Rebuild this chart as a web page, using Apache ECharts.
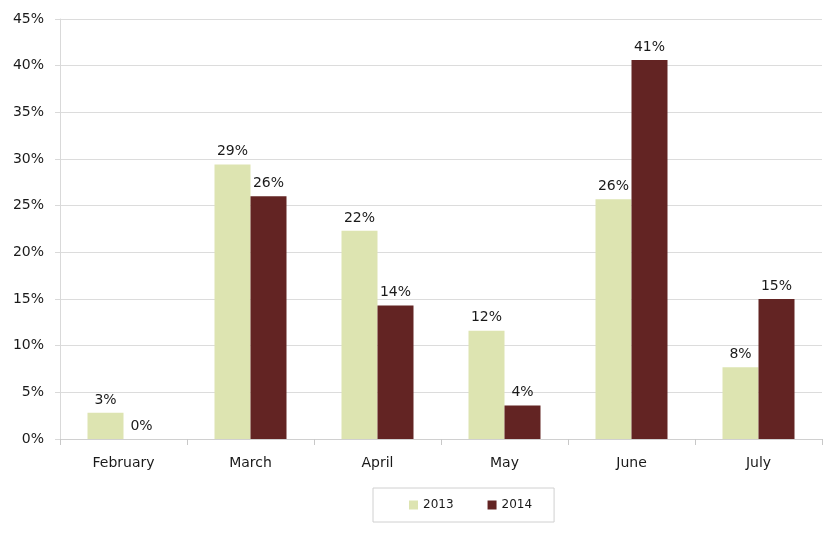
<!DOCTYPE html>
<html>
<head>
<meta charset="utf-8">
<script src="https://cdn.jsdelivr.net/npm/echarts@6/dist/echarts.min.js"></script>
<style>html,body{margin:0;padding:0;background:#fff}#c{width:840px;height:538px}</style>
</head>
<body>
<div id="c"></div>
<script>
const categories = ['February', 'March', 'April', 'May', 'June', 'July'];
const series2013 = [2.8, 29.4, 22.3, 11.6, 25.7, 7.7];
const series2014 = [0, 26.0, 14.3, 3.6, 40.6, 15.0];
const seriesNames = ['2013', '2014'];
const yTicks = { min: 0, max: 45, interval: 5 };

const chart = echarts.init(document.getElementById('c'));
const font = '"DejaVu Sans", Verdana, sans-serif';
const lbl = {
  show: true, position: 'top', distance: 6,
  fontFamily: font, fontSize: 14, color: '#1a1a1a',
  formatter: p => Math.round(p.value) + '%'
};
chart.setOption({
  animation: false,
  backgroundColor: '#fff',
  grid: { left: 60, right: 18, top: 19, bottom: 99 },
  legend: {
    data: seriesNames,
    left: 373, top: 488,
    padding: [11, 22, 11, 36],
    itemGap: 34, itemWidth: 9, itemHeight: 9,
    icon: 'rect',
    borderColor: '#d0d0d0', borderWidth: 1,
    textStyle: { fontFamily: font, fontSize: 12, color: '#1a1a1a' }
  },
  xAxis: {
    type: 'category', data: categories,
    axisLine: { lineStyle: { color: '#d0d0d0' } },
    axisTick: { show: true, length: 6, lineStyle: { color: '#c8c8c8' } },
    axisLabel: { fontFamily: font, fontSize: 14, color: '#1a1a1a', margin: 17 }
  },
  yAxis: {
    type: 'value', min: yTicks.min, max: yTicks.max, interval: yTicks.interval,
    axisLine: { show: true, lineStyle: { color: '#d9d9d9' } },
    axisTick: { show: true, length: 5, lineStyle: { color: '#d9d9d9' } },
    splitLine: { lineStyle: { color: '#dcdcdc' } },
    axisLabel: { fontFamily: font, fontSize: 14, color: '#1a1a1a', margin: 16, formatter: '{value}%' }
  },
  series: [
    { name: seriesNames[0], type: 'bar', data: series2013, barWidth: 36, barGap: '0%',
      itemStyle: { color: '#dde4b1' }, label: lbl },
    { name: seriesNames[1], type: 'bar', data: series2014, barWidth: 36, barGap: '0%',
      itemStyle: { color: '#632423' }, label: lbl }
  ]
});
</script>
</body>
</html>
